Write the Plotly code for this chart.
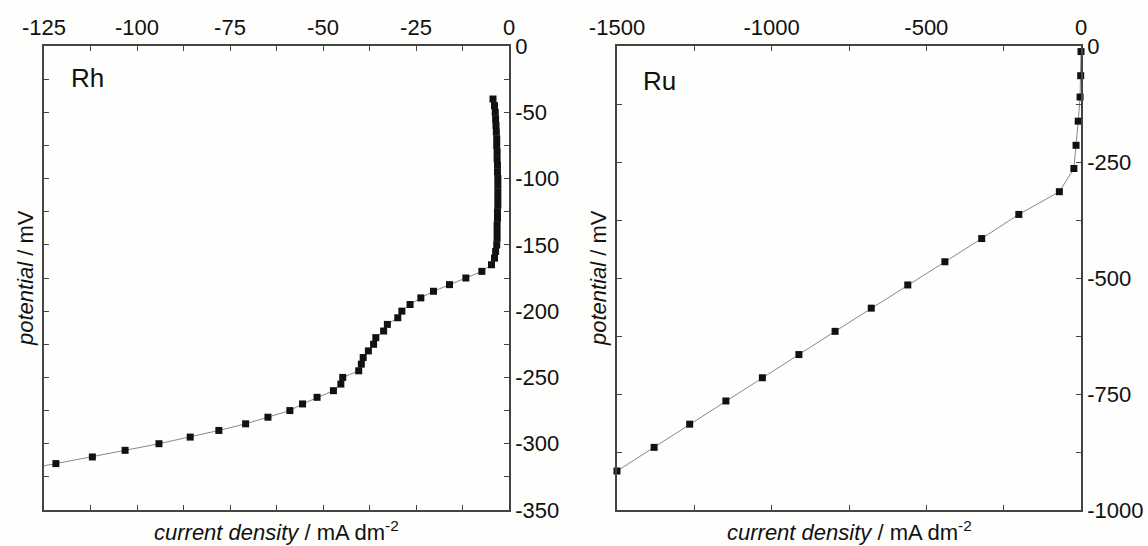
import plotly.graph_objects as go

W, H = 1148, 546

# ---- Data: Rh ----
rh_potential = [-40, -45, -50, -55, -60, -65, -70, -75, -80, -85, -90, -95,
                -100, -105, -110, -115, -120, -125, -130, -135, -140, -145,
                -150, -155, -160, -165, -170, -175, -180, -185, -190, -195,
                -200, -205, -210, -215, -220, -225, -230, -235, -240, -245,
                -250, -255, -260, -265, -270, -275, -280, -285, -290, -295,
                -300, -305, -310, -315, -320]
rh_current = [-4.3, -3.9, -3.7, -3.6, -3.5, -3.4, -3.3, -3.3, -3.2, -3.2, -3.1, -3.1,
              -3.0, -3.0, -3.0, -3.0, -3.0, -3.1, -3.1, -3.2, -3.2, -3.2,
              -3.3, -3.6, -3.9, -4.7, -7.3, -11.6, -16.0, -20.3, -23.7, -26.6,
              -28.8, -29.9, -32.7, -33.7, -35.8, -36.4, -37.8, -39.2, -39.7, -40.4,
              -44.7, -45.2, -47.2, -51.6, -55.5, -58.9, -64.8, -70.8, -78.0, -85.7,
              -94.1, -103.2, -112.0, -121.8, -131.5]

# ---- Data: Ru ----
ru_potential = [-12, -64, -110, -162, -214, -264, -314, -363, -415, -465,
                -515, -565, -615, -665, -715, -765, -815, -865, -916]
ru_current = [0, -1, -3, -9, -16, -23, -70, -201, -321, -440,
              -560, -678, -795, -912, -1030, -1148, -1265, -1380, -1500]

# ---- Tick labels ----
rh_xticks = [-125, -112.5, -100, -87.5, -75, -62.5, -50, -37.5, -25, -12.5, 0]
rh_xticktext = ["-125", "", "-100", "", "-75", "", "-50", "", "-25", "", "0"]
rh_yticks = [0, -25, -50, -75, -100, -125, -150, -175, -200, -225, -250, -275, -300, -325, -350]
rh_yticktext = ["0", "", "-50", "", "-100", "", "-150", "", "-200", "", "-250", "", "-300", "", "-350"]
ru_xticks = [-1500, -1250, -1000, -750, -500, -250, 0]
ru_xticktext = ["-1500", "", "-1000", "", "-500", "", "0"]
ru_yticks = [0, -125, -250, -375, -500, -625, -750, -875, -1000]
ru_yticktext = ["0", "", "-250", "", "-500", "", "-750", "", "-1000"]

FONT = "Liberation Sans, Arial, sans-serif"
AX = "#444444"
TXT = "#111111"
FS = 22

def px(x):
    return x / W

def py(y):
    return 1 - y / H

fig = go.Figure()

fig.add_trace(go.Scatter(
    x=rh_current, y=rh_potential, mode="lines+markers",
    line=dict(color="#888888", width=1),
    marker=dict(symbol="square", size=7, color="#111111"),
    xaxis="x", yaxis="y", cliponaxis=True, showlegend=False))

fig.add_trace(go.Scatter(
    x=ru_current, y=ru_potential, mode="lines+markers",
    line=dict(color="#888888", width=1),
    marker=dict(symbol="square", size=7, color="#111111"),
    xaxis="x2", yaxis="y2", cliponaxis=False, showlegend=False))

common_axis = dict(showline=True, linecolor=AX, linewidth=1.5, mirror="ticks",
                   ticks="inside", ticklen=5, tickwidth=1, tickcolor=AX,
                   showgrid=False, zeroline=False, automargin=False,
                   tickfont=dict(family=FONT, size=FS, color=TXT))

fig.update_layout(
    width=W, height=H, autosize=False,
    margin=dict(l=0, r=0, t=0, b=0, autoexpand=False),
    paper_bgcolor="#fefefc", plot_bgcolor="#fefefc",
    xaxis=dict(domain=[px(44), px(509)], range=[-125, 0], side="top", anchor="y",
               tickmode="array", tickvals=rh_xticks, ticktext=rh_xticktext, **common_axis),
    yaxis=dict(domain=[py(510), py(46)], range=[-350, 0], side="right", anchor="x",
               tickmode="array", tickvals=rh_yticks, ticktext=rh_yticktext, **common_axis),
    xaxis2=dict(domain=[px(617), px(1081)], range=[-1500, 0], side="top", anchor="y2",
                tickmode="array", tickvals=ru_xticks, ticktext=ru_xticktext, **common_axis),
    yaxis2=dict(domain=[py(510), py(46)], range=[-1000, 0], side="right", anchor="x2",
                tickmode="array", tickvals=ru_yticks, ticktext=ru_yticktext, **common_axis),
)

xtitle = "<i>current density</i> / mA dm<sup>-2</sup>"
ytitle = "<i>potential</i> / mV"
annotations = [
    dict(text=xtitle, x=px(276.5), y=py(531), xref="paper", yref="paper",
         showarrow=False, xanchor="center", yanchor="middle",
         font=dict(family=FONT, size=FS, color=TXT)),
    dict(text=xtitle, x=px(849), y=py(531), xref="paper", yref="paper",
         showarrow=False, xanchor="center", yanchor="middle",
         font=dict(family=FONT, size=FS, color=TXT)),
    dict(text=ytitle, x=px(25), y=py(278), xref="paper", yref="paper",
         showarrow=False, xanchor="center", yanchor="middle", textangle=-90,
         font=dict(family=FONT, size=FS, color=TXT)),
    dict(text=ytitle, x=px(598), y=py(278), xref="paper", yref="paper",
         showarrow=False, xanchor="center", yanchor="middle", textangle=-90,
         font=dict(family=FONT, size=FS, color=TXT)),
    dict(text="Rh", x=px(69), y=py(78), xref="paper", yref="paper",
         showarrow=False, xanchor="left", yanchor="middle",
         font=dict(family=FONT, size=26, color=TXT)),
    dict(text="Ru", x=px(641), y=py(81), xref="paper", yref="paper",
         showarrow=False, xanchor="left", yanchor="middle",
         font=dict(family=FONT, size=26, color=TXT)),
]
fig.update_layout(annotations=annotations)

fig.write_html("out.html")
